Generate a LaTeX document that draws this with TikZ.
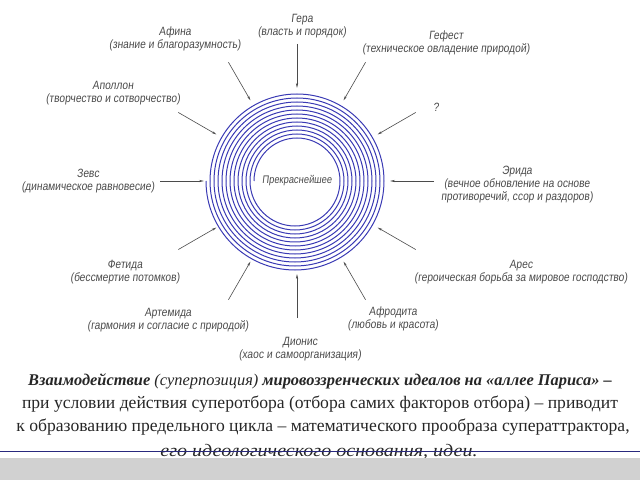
\documentclass[tikz,border=0pt]{standalone}
\usepackage{fontspec}
\setmainfont{Liberation Serif}
\newfontfamily\gostfont[FakeStretch=0.85,FakeSlant=0.12]{Liberation Sans}
\newfontfamily\wideserif[FakeStretch=1.14]{Liberation Serif}
\usetikzlibrary{arrows.meta,calc}
\definecolor{spiralblue}{RGB}{58,58,180}
\definecolor{labelgray}{RGB}{75,75,75}
\tikzset{
  godlabel/.style={font=\gostfont\fontsize{12}{13}\selectfont,text=labelgray,align=center,inner sep=0pt},
  ray/.style={draw=labelgray,line width=0.6pt,-{Stealth[length=5pt,width=2.2pt]}},
  spiral/.style={draw=spiralblue,line width=1pt},
  caption/.style={font=\fontsize{17.6}{20}\selectfont,text=black!85,inner sep=0pt,anchor=base}
}
\begin{document}
\begin{tikzpicture}[x=1pt,y=1pt]
    \useasboundingbox (0,0) rectangle (640,480);
    % spiral made of half circles
    \foreach \i in {0,...,11} {
        \pgfmathsetmacro{\r}{43+\i*4}
        \draw[spiral] ({297-\r},299) arc (180:0:\r) arc (0:-180:{\r+2});
    }
    \node[godlabel,font=\gostfont\fontsize{11}{13}\selectfont] (centre) at (297,299) {Прекраснейшее};
    % arrows towards the spiral
    \foreach \a in {0,30,...,330} {
        \coordinate (t\a) at ($(297,299)+(\a:137)$);
        \coordinate (h\a) at ($(297,299)+(\a:93)$);
        \draw[ray] (t\a) -- (h\a);
    }
    % labels
    \node[godlabel] (gera) at (302,454) {Гера\\(власть и порядок)};
    \node[godlabel] (afina) at (175,441) {Афина\\(знание и благоразумность)};
    \node[godlabel] (gefest) at (446,437) {Гефест\\(техническое овладение природой)};
    \node[godlabel] (vopros) at (436,373) {?};
    \node[godlabel] (apollon) at (113,387) {Аполлон\\(творчество и сотворчество)};
    \node[godlabel] (zevs) at (88,299) {Зевс\\(динамическое равновесие)};
    \node[godlabel] (erida) at (517,295) {Эрида\\(вечное обновление на основе\\противоречий, ссор и раздоров)};
    \node[godlabel] (fetida) at (125,208) {Фетида\\(бессмертие потомков)};
    \node[godlabel] (artemida) at (168,160) {Артемида\\(гармония и согласие с природой)};
    \node[godlabel] (ares) at (521,208) {Арес\\(героическая борьба за мировое господство)};
    \node[godlabel] (afrodita) at (393,161) {Афродита\\(любовь и красота)};
    \node[godlabel] (dionis) at (300,131) {Дионис\\(хаос и самоорганизация)};
    % caption
    \node[caption,font=\fontsize{16.4}{20}\selectfont] (line1) at (320,95) {\bfseries\itshape Взаимодействие {\mdseries(суперпозиция)} мировоззренческих идеалов на «аллее Париса» –};
    \node[caption] (line2) at (320,72) {при условии действия суперотбора (отбора самих факторов отбора) – приводит};
    \node[caption] (line3) at (323,49) {к образованию предельного цикла – математического прообраза суператтрактора,};
    \node[caption] (line4) at (319,24) {\wideserif\itshape его идеологического основания, идеи.};
    \fill[black!18] (0,0) rectangle (640,22);
    \draw[spiralblue!70!black,line width=0.8pt] (0,29) -- (640,29);
\end{tikzpicture}
\end{document}
